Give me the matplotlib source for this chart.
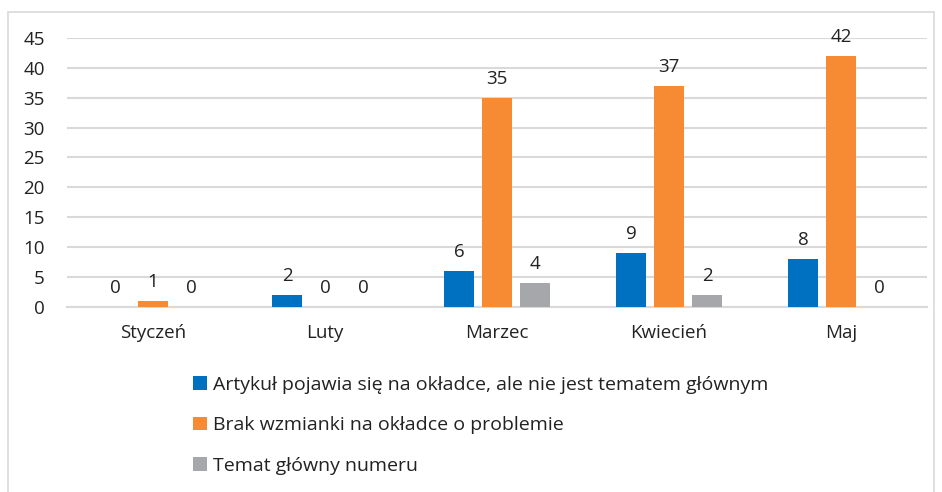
import matplotlib
matplotlib.use("Agg")
import matplotlib.pyplot as plt
import numpy as np
from matplotlib.patches import Rectangle

categories = ["Styczeń", "Luty", "Marzec", "Kwiecień", "Maj"]
series_names = [
    "Artykuł pojawia się na okładce, ale nie jest tematem głównym",
    "Brak wzmianki na okładce o problemie",
    "Temat główny numeru",
]
s_blue = [0, 2, 6, 9, 8]
s_orange = [1, 0, 35, 37, 42]
s_gray = [0, 0, 4, 2, 0]
colors = ["#0070C0", "#F68B33", "#A5A7AA"]
yticks = [0, 5, 10, 15, 20, 25, 30, 35, 40, 45]

plt.rcParams['font.family'] = ['Open Sans', 'DejaVu Sans']
FS = 13.5
fig = plt.figure(figsize=(9.42, 4.92), dpi=100)
ax = fig.add_axes([0.0711, 0.376, 0.913, 0.547])

x = np.arange(len(categories))
w = 0.174
off = 0.221
handles = []
for i, (vals, c) in enumerate(zip([s_blue, s_orange, s_gray], colors)):
    pos = x + (i - 1) * off
    b = ax.bar(pos, vals, width=w, color=c, zorder=3, label=series_names[i])
    handles.append(b)
    for px, v in zip(pos, vals):
        ax.annotate(str(v), (px, v), xytext=(0, 7), textcoords="offset points",
                    ha="center", va="bottom", fontsize=FS, color="#222222")

ax.set_xlim(-0.5, 4.5)
ax.set_ylim(0, 45)
ax.set_yticks(yticks)
ax.set_xticks(x)
ax.set_xticklabels(categories)
ax.tick_params(axis='both', length=0, labelsize=FS, colors="#222222")
ax.tick_params(axis='x', pad=12)
ax.tick_params(axis='y', pad=16)
ax.grid(axis='y', color="#D9D9D9", linewidth=1.5, zorder=0)
for s in ["top", "right", "left"]:
    ax.spines[s].set_visible(False)
ax.spines["bottom"].set_color("#D9D9D9")
ax.spines["bottom"].set_linewidth(1.5)

leg = fig.legend(handles=handles, loc="upper left", bbox_to_anchor=(0.205, 0.236),
                 frameon=False, fontsize=14, ncol=1, handlelength=0.72, handleheight=0.72,
                 handletextpad=0.3, labelspacing=1.15, borderaxespad=0, borderpad=0)
for t in leg.get_texts():
    t.set_color("#222222")

fig.patches.append(Rectangle((8 / 942, -0.01), 926 / 942, 1 - 12 / 492 + 0.01,
                             transform=fig.transFigure, fill=False,
                             edgecolor="#D9D9D9", linewidth=1.2))

fig.savefig("out.png", dpi=100)
